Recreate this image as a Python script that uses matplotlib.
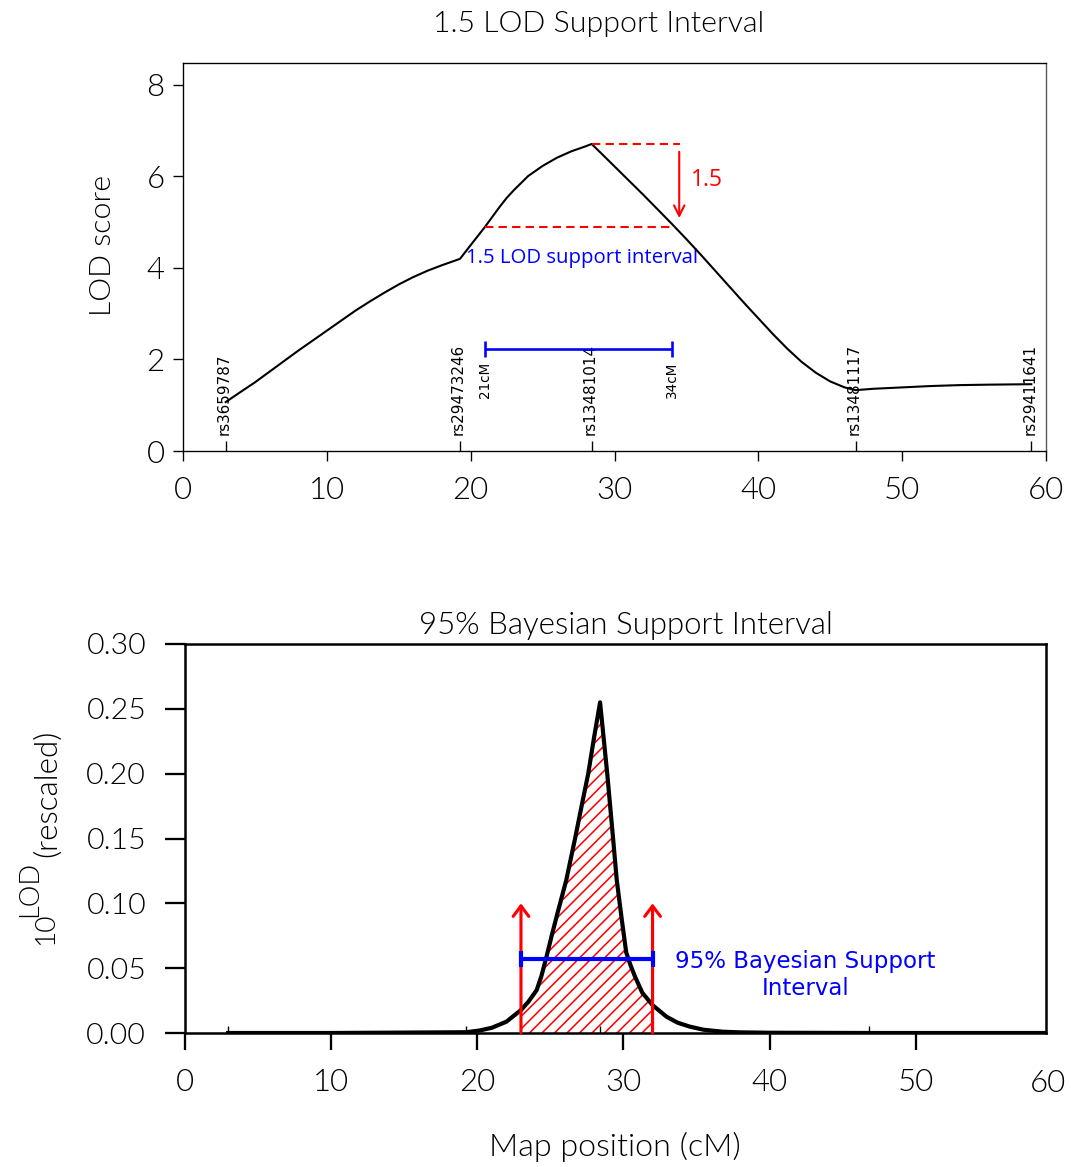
import numpy as np
import matplotlib
matplotlib.use('Agg')
import matplotlib.pyplot as plt
from matplotlib.transforms import blended_transform_factory

# ---------------- data ----------------
marker_names = ['rs3659787', 'rs29473246', 'rs13481014', 'rs13481117', 'rs29411641']
marker_pos = [2.97, 19.26, 28.41, 46.77, 58.98]

lod_pos = [2.97, 4, 5, 6, 7, 8, 9, 10, 11, 12, 13, 14, 15, 16, 17, 18, 19.26,
           20, 21, 22, 22.5, 23, 24, 25, 26, 27, 28, 28.41,
           29, 30, 31, 32, 33, 34, 35, 36, 37, 38, 39, 40, 41, 42, 43, 44, 45, 46, 46.77,
           48, 50, 52, 54, 56, 58.98]
lod_val = [1.07, 1.29, 1.50, 1.73, 1.96, 2.19, 2.41, 2.63, 2.85, 3.07, 3.27, 3.46, 3.64,
           3.80, 3.94, 4.06, 4.20,
           4.50, 4.90, 5.33, 5.53, 5.70, 6.01, 6.23, 6.41, 6.55, 6.66, 6.71,
           6.53, 6.22, 5.91, 5.60, 5.28, 4.96, 4.63, 4.29, 3.94, 3.59, 3.24, 2.90, 2.56,
           2.24, 1.95, 1.71, 1.52, 1.39, 1.33,
           1.36, 1.39, 1.42, 1.44, 1.45, 1.46]

lod_peak_pos = 28.41
lod_peak = 6.71
lod_drop_level = 4.90
lod_interval = [21.0, 34.0]
lod_interval_labels = ['21cM', '34cM']
lod_bar_y = 2.23
dash_upper_end = 34.56
dash_lower_end = 34.2
arrow_x = 34.5
arrow_from = 6.54
arrow_to = 5.09

post_pos = [2.97, 10.0, 19.26, 20.2, 21.0, 22.0, 23.0, 23.5, 24.07, 24.4, 24.75, 25.1, 25.5,
            26.1, 26.7, 27.2, 27.6, 28.0, 28.41, 28.9, 29.3, 29.55, 29.9, 30.2, 30.5, 30.8,
            31.3, 32.0, 32.95, 33.7, 34.55, 35.5, 36.8, 38.0, 40.0, 46.77, 58.98]
post_val = [0.0, 0.0, 0.0006, 0.002, 0.004, 0.0087, 0.0177, 0.024, 0.033, 0.044, 0.059,
            0.075, 0.0925, 0.118, 0.15, 0.178, 0.20, 0.228, 0.255, 0.20, 0.15, 0.118, 0.087,
            0.062, 0.052, 0.0435, 0.031, 0.0215, 0.0126, 0.008, 0.0049, 0.0025, 0.001,
            0.0005, 0.0002, 0.0, 0.0]
bayes_interval = [23.0, 32.0]
bayes_bar_y = 0.057
bayes_arrow_top = 0.10

x_ticks = [0, 10, 20, 30, 40, 50, 60]
y_ticks_top = [0, 2, 4, 6, 8]
y_ticks_bot = [0.00, 0.05, 0.10, 0.15, 0.20, 0.25, 0.30]

# ---------------- style ----------------
plt.rcParams['font.family'] = ['Lato', 'DejaVu Sans']
plt.rcParams['font.weight'] = 300
plt.rcParams['hatch.linewidth'] = 1.5
plt.rcParams['hatch.color'] = 'red'

W, H = 1071, 1167
DPI = 75
fig = plt.figure(figsize=(W / DPI, H / DPI), dpi=DPI)

# ---------------- top panel ----------------
ax1 = fig.add_axes([183 / W, 1 - 451 / H, (1046 - 183) / W, (451 - 63) / H])
ax1.set_xlim(0, 60)
ax1.set_ylim(0, 8.48)
for s in ax1.spines.values():
    s.set_linewidth(1.3)
    s.set_color('black')
ax1.spines['right'].set_color('#555555')
ax1.set_xticks(x_ticks)
ax1.set_yticks(y_ticks_top)
ax1.set_xticklabels([str(v) for v in x_ticks])
ax1.set_yticklabels([str(v) for v in y_ticks_top])
ax1.tick_params(axis='both', which='major', direction='out', length=9.6, width=1.3,
                labelsize=30)
ax1.tick_params(axis='x', which='major', pad=14)
ax1.tick_params(axis='y', which='major', pad=8)
ax1.set_xticks(marker_pos, minor=True)
ax1.tick_params(axis='x', which='minor', direction='in', length=9.6, width=1.3)

ax1.plot(lod_pos, lod_val, color='black', lw=2.0, zorder=3)

for x, name in zip(marker_pos, marker_names):
    ax1.text(x - 0.1, 0.35, name, rotation=90, ha='center', va='bottom', fontsize=14.5,
             family='DejaVu Sans', fontweight='normal', zorder=2)

ax1.plot([lod_peak_pos, dash_upper_end], [lod_peak, lod_peak], color='red', lw=2,
         linestyle=(0, (4, 2.5)), zorder=4)
ax1.plot([lod_interval[0], dash_lower_end], [lod_drop_level, lod_drop_level], color='red',
         lw=2, linestyle=(0, (4, 2.5)), zorder=4)
ax1.annotate('', xy=(arrow_x, arrow_to), xytext=(arrow_x, arrow_from),
             arrowprops=dict(arrowstyle='->,head_length=0.5,head_width=0.25', color='red',
                             lw=2, shrinkA=0, shrinkB=0, mutation_scale=20))
ax1.text(arrow_x + 0.8, (arrow_from + arrow_to) / 2 + 0.1, '1.5', color='red', fontsize=22,
         family='Open Sans', fontweight='normal', ha='left', va='center')
ax1.text(27.75, 4.22, '1.5 LOD support interval', color='blue', fontsize=19.5,
         family='Open Sans', fontweight='normal', ha='center', va='center', zorder=2)

ax1.hlines(lod_bar_y, lod_interval[0], lod_interval[1], color='blue', lw=2.5)
ax1.vlines(lod_interval, lod_bar_y - 0.165, lod_bar_y + 0.165, color='blue', lw=2.5)
for x, lab in zip(lod_interval, lod_interval_labels):
    ax1.text(x, 1.95, lab, rotation=90, ha='center', va='top', fontsize=13,
             family='DejaVu Sans', fontweight='normal')

ax1.text(0.482, 1.1005, '1.5 LOD Support Interval', transform=ax1.transAxes,
         ha='center', va='center', fontsize=29)
fig.text(103 / W, 1 - 245 / H, 'LOD score', rotation=90, ha='center', va='center',
         fontsize=29)

# ---------------- bottom panel ----------------
ax2 = fig.add_axes([184.7 / W, 1 - 1033 / H, (1046 - 184.7) / W, (1033 - 644) / H])
ax2.set_xlim(0, 58.91)
ax2.set_ylim(0, 0.30)
for s in ax2.spines.values():
    s.set_linewidth(2.4)
    s.set_color('black')
ax2.set_xticks(x_ticks[:-1])
ax2.set_xticklabels([str(v) for v in x_ticks[:-1]])
ax2.set_yticks(y_ticks_bot)
ax2.set_yticklabels(['%.2f' % v for v in y_ticks_bot])
ax2.tick_params(axis='y', which='major', direction='out', length=19, width=2.2,
                labelsize=29, pad=18)
ax2.tick_params(axis='x', which='major', direction='out', length=16, width=2.2,
                labelsize=30, pad=18)
ax2.set_xticks(marker_pos[:-1], minor=True)
ax2.tick_params(axis='x', which='minor', direction='in', length=7, width=1.3)
ax2.text(x_ticks[-1] - 0.95, -0.092, str(x_ticks[-1]),
         transform=blended_transform_factory(ax2.transData, ax2.transAxes),
         ha='center', va='top', fontsize=30)

pp = np.array(post_pos)
pv = np.array(post_val)
mask = (pp >= bayes_interval[0]) & (pp <= bayes_interval[1])
ax2.fill_between(pp, 0, pv, where=mask, facecolor='none', edgecolor='red', hatch='//',
                 linewidth=0, zorder=1.5)
ax2.plot(pp, pv, color='black', lw=4, zorder=2)
for x in bayes_interval:
    ax2.annotate('', xy=(x, bayes_arrow_top), xytext=(x, 0),
                 arrowprops=dict(arrowstyle='->,head_length=0.5,head_width=0.375',
                                 color='red', lw=3, shrinkA=0, shrinkB=0,
                                 mutation_scale=20), zorder=3)
ax2.hlines(bayes_bar_y, bayes_interval[0], bayes_interval[1], color='blue', lw=4, zorder=4)
ax2.vlines(bayes_interval, bayes_bar_y - 0.0062, bayes_bar_y + 0.0062, color='blue', lw=4,
           zorder=4)
ax2.text(42.45, 0.0445, '95% Bayesian Support\nInterval', color='blue', fontsize=22,
         family='DejaVu Sans', fontweight='normal', ha='center', va='center',
         multialignment='center', linespacing=1.2)

ax2.text(0.512, 1.0488, '95% Bayesian Support Interval', transform=ax2.transAxes,
         ha='center', va='center', fontsize=30)
fig.text(615 / W, 1 - 1147 / H, 'Map position (cM)', ha='center', va='center',
         fontsize=31)

# y label: 10^LOD_(rescaled)
fig.text(53 / W, 1 - 945 / H, '10', rotation=90, rotation_mode='anchor', ha='left',
         va='baseline', fontsize=27)
fig.text(37 / W, 1 - 917 / H, 'LOD', rotation=90, rotation_mode='anchor', ha='left',
         va='baseline', fontsize=26)
fig.text(56 / W, 1 - 857 / H, '(rescaled)', rotation=90, rotation_mode='anchor', ha='left',
         va='baseline', fontsize=30)

fig.savefig('out.png', dpi=DPI)
